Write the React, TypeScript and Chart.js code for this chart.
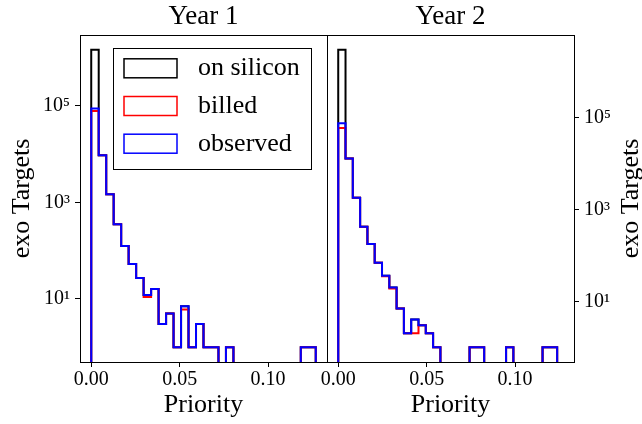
import React, { useEffect, useRef } from 'react';
import { Chart, registerables } from 'chart.js';

Chart.register(...registerables);

const FONT_FAMILY = "'Liberation Serif', 'Times New Roman', Times, serif";

const SERIES_LABELS = ['on silicon', 'billed', 'observed'];
const SERIES_COLORS = ['#000000', '#ff0000', '#0000ff'];
const PANEL_TITLES = ['Year 1', 'Year 2'];
const X_TITLE = 'Priority';
const Y_TITLE = 'exo Targets';

// histogram bin widths (30 bins each, starting at priority 0)
const BIN_WIDTH_YEAR1 = 0.004233;
const BIN_WIDTH_YEAR2 = 0.004127;

const siliconYear1 = [1450000, 9500, 1470, 351, 125, 53, 27, 12, 16, 3, 5, 1, 7, 1, 3, 1, 1, 0, 1, 0, 0, 0, 0, 0, 0, 0, 0, 0, 1, 1];
const billedYear1 = [78000, 9500, 1470, 351, 125, 53, 27, 11, 16, 3, 5, 1, 6, 1, 3, 1, 1, 0, 1, 0, 0, 0, 0, 0, 0, 0, 0, 0, 1, 1];
const observedYear1 = [88000, 9500, 1470, 351, 125, 53, 27, 12, 16, 3, 5, 1, 7, 1, 3, 1, 1, 0, 1, 0, 0, 0, 0, 0, 0, 0, 0, 0, 1, 1];

const siliconYear2 = [3050000, 13000, 1820, 424, 177, 69, 36, 20, 7, 2, 4, 3, 2, 1, 0, 0, 0, 0, 1, 1, 0, 0, 0, 1, 0, 0, 0, 0, 1, 1];
const billedYear2 = [60000, 13000, 1820, 424, 177, 69, 35, 19, 7, 2, 2, 3, 2, 1, 0, 0, 0, 0, 1, 1, 0, 0, 0, 1, 0, 0, 0, 0, 1, 1];
const observedYear2 = [76600, 13000, 1820, 424, 177, 69, 36, 20, 7, 2, 4, 3, 2, 1, 0, 0, 0, 0, 1, 1, 0, 0, 0, 1, 0, 0, 0, 0, 1, 1];

const X_TICK_VALUES = [0, 0.05, 0.1];
const Y_TICK_VALUES = [10, 1000, 100000];

const PANEL_SERIES = [
  [siliconYear1, billedYear1, observedYear1],
  [siliconYear2, billedYear2, observedYear2],
];
const PANEL_BIN_WIDTHS = [BIN_WIDTH_YEAR1, BIN_WIDTH_YEAR2];

const SUP = ['\u2070', '\u00b9', '\u00b2', '\u00b3', '\u2074', '\u2075', '\u2076', '\u2077', '\u2078', '\u2079'];
function logLabel(v: number) {
  const e = Math.round(Math.log10(v));
  return '10' + String(e).split('').map((d) => SUP[Number(d)]).join('');
}

function stepPoints(counts: number[], binWidth: number, floor: number) {
  const pts: { x: number; y: number }[] = [{ x: 0, y: floor }];
  counts.forEach((c, i) => {
    const y = c > 0 ? c : floor;
    pts.push({ x: i * binWidth, y });
    pts.push({ x: (i + 1) * binWidth, y });
  });
  pts.push({ x: counts.length * binWidth, y: floor });
  return pts;
}

const framePlugin = {
  id: 'frame',
  afterDatasetsDraw(chart: any) {
    const { ctx, chartArea: a } = chart;
    ctx.save();
    ctx.strokeStyle = '#000';
    ctx.lineWidth = 1;
    const l = Math.floor(a.left) + 0.5;
    const t = Math.floor(a.top) + 0.5;
    const r = Math.floor(a.right) + 0.5;
    const b = Math.floor(a.bottom) + 0.5;
    ctx.strokeRect(l, t, r - l, b - t);
    ctx.restore();
  },
};

const legendPlugin = {
  id: 'boxLegend',
  afterDraw(chart: any) {
    const { ctx, chartArea: a } = chart;
    ctx.save();
    ctx.font = `26px ${FONT_FAMILY}`;
    const left = a.left + 33;
    const top = a.top + 13;
    const rowH = 37.7;
    const firstRow = 20.3;
    const handleX = left + 11;
    const handleW = 53;
    const handleH = 19;
    const textX = left + 85;
    const maxW = Math.max(...SERIES_LABELS.map((s) => ctx.measureText(s).width));
    const width = Math.round(textX + maxW + 11.5 - left);
    const height = 121;
    ctx.fillStyle = '#fff';
    ctx.fillRect(left, top, width, height);
    ctx.strokeStyle = '#000';
    ctx.lineWidth = 1;
    ctx.strokeRect(Math.round(left) + 0.5, Math.round(top) + 0.5, width, height);
    SERIES_LABELS.forEach((label, i) => {
      const cy = top + firstRow + i * rowH;
      ctx.strokeStyle = SERIES_COLORS[i];
      ctx.lineWidth = 1.5;
      ctx.strokeRect(handleX, cy - handleH / 2, handleW, handleH);
      ctx.fillStyle = '#000';
      ctx.textBaseline = 'middle';
      ctx.textAlign = 'left';
      ctx.fillText(label, textX, cy);
    });
    ctx.restore();
  },
};

const rightTitlePlugin = {
  id: 'rightYTitle',
  afterDraw(chart: any) {
    const { ctx, chartArea: a } = chart;
    ctx.save();
    ctx.font = `26px ${FONT_FAMILY}`;
    ctx.fillStyle = '#000';
    ctx.translate(chart.width - 11, (a.top + a.bottom) / 2);
    ctx.rotate(-Math.PI / 2);
    ctx.textAlign = 'center';
    ctx.textBaseline = 'middle';
    ctx.fillText(Y_TITLE, 0, 0);
    ctx.restore();
  },
};

function buildConfig(idx: number): any {
  const series = PANEL_SERIES[idx];
  const binWidth = PANEL_BIN_WIDTHS[idx];
  const positive = series.flat().filter((c) => c > 0);
  const lo = Math.log10(Math.min(...positive));
  const hi = Math.log10(Math.max(...positive));
  const span = hi - lo;
  const yMin = Math.pow(10, lo - 0.05 * span);
  const yMax = Math.pow(10, hi + 0.05 * span);
  const floor = yMin / 1000;
  const xEnd = Math.max(...PANEL_SERIES.map((s, i) => s[0].length * PANEL_BIN_WIDTHS[i]));
  const xMin = -0.05 * xEnd;
  const xMax = 1.05 * xEnd;

  const tickFont = { family: FONT_FAMILY, size: 20 };
  const labelFont = { family: FONT_FAMILY, size: 26, weight: 'normal' as const, lineHeight: 1.2 };
  const titleFont = { family: FONT_FAMILY, size: 27, weight: 'normal' as const, lineHeight: 1.2 };
  const grid = {
    drawOnChartArea: false,
    drawTicks: true,
    tickLength: 5,
    tickWidth: 1,
    tickColor: '#000',
  };

  return {
    type: 'line',
    data: {
      datasets: series.map((counts, i) => ({
        label: SERIES_LABELS[i],
        data: stepPoints(counts, binWidth, floor),
        borderColor: SERIES_COLORS[i],
        backgroundColor: SERIES_COLORS[i],
        borderWidth: 2,
        pointRadius: 0,
        fill: false,
        tension: 0,
        borderJoinStyle: 'miter',
        borderCapStyle: 'butt',
        order: series.length - i,
      })),
    },
    options: {
      responsive: false,
      animation: false,
      layout: {
        padding: idx === 0 ? { left: 0, right: 315, top: 0, bottom: 0 } : { left: 327, right: 0, top: 0, bottom: 0 },
      },
      plugins: {
        legend: { display: false },
        tooltip: { enabled: false },
        title: {
          display: true,
          text: PANEL_TITLES[idx],
          fullSize: false,
          color: '#000',
          font: titleFont,
          padding: { top: 1, bottom: 1.6 },
        },
      },
      scales: {
        x: {
          type: 'linear',
          min: xMin,
          max: xMax,
          afterBuildTicks: (s: any) => {
            s.ticks = X_TICK_VALUES.map((v) => ({ value: v }));
          },
          afterFit: (s: any) => {
            s.height = 62;
          },
          ticks: {
            autoSkip: false,
            maxRotation: 0,
            minRotation: 0,
            padding: 1,
            color: '#000',
            font: tickFont,
            callback: (v: any) => Number(v).toFixed(2),
          },
          grid,
          border: { display: false },
          title: {
            display: true,
            text: X_TITLE,
            color: '#000',
            font: labelFont,
            padding: { top: 0, bottom: 3.4 },
          },
        },
        y: {
          type: 'logarithmic',
          position: idx === 0 ? 'left' : 'right',
          min: yMin,
          max: yMax,
          afterBuildTicks: (s: any) => {
            s.ticks = Y_TICK_VALUES.map((v) => ({ value: v }));
          },
          afterFit: (s: any) => {
            s.width = idx === 0 ? 80 : 68;
          },
          ticks: {
            autoSkip: false,
            padding: 5,
            color: '#000',
            font: tickFont,
            callback: (v: any) => logLabel(Number(v)),
          },
          grid,
          border: { display: false },
          title: {
            display: idx === 0,
            text: Y_TITLE,
            color: '#000',
            font: labelFont,
            padding: { top: 6.9, bottom: 0 },
          },
        },
      },
    },
    plugins: idx === 0 ? [framePlugin, legendPlugin] : [framePlugin, rightTitlePlugin],
  };
}

function Panel({ idx }: { idx: number }) {
  const ref = useRef<HTMLCanvasElement | null>(null);
  useEffect(() => {
    if (!ref.current) return;
    const chart = new Chart(ref.current, buildConfig(idx));
    return () => chart.destroy();
  }, [idx]);
  return (
    <canvas
      ref={ref}
      width={642}
      height={424}
      style={{ position: 'absolute', left: 0, top: 0, width: 642, height: 424 }}
    />
  );
}

export default function App() {
  return (
    <div style={{ position: 'absolute', left: 0, top: 0, width: 642, height: 424, background: '#fff' }}>
      <Panel idx={0} />
      <Panel idx={1} />
    </div>
  );
}
